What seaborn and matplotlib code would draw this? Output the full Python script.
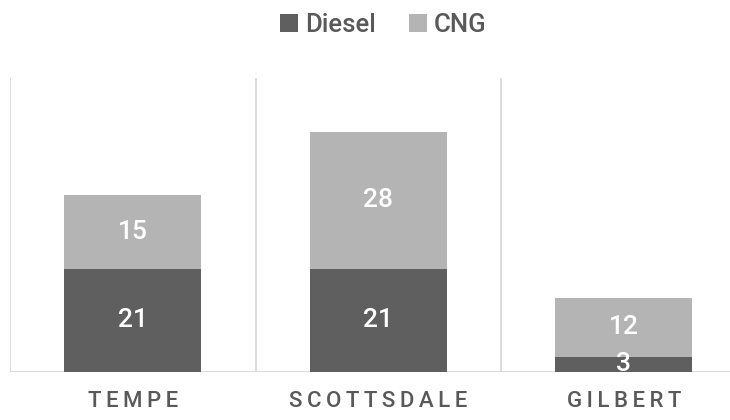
import matplotlib
matplotlib.use("Agg")
import matplotlib.pyplot as plt
import seaborn as sns
import pandas as pd
import numpy as np

# --- data ---
cities = ["TEMPE", "SCOTTSDALE", "GILBERT"]
diesel = [21, 21, 3]
cng = [15, 28, 12]

DIESEL_C = "#5f5f5f"
CNG_C = "#b4b4b4"
TXT_C = "#595959"

sns.set_theme(style="white")
plt.rcParams["font.family"] = ["Roboto", "DejaVu Sans"]

df = pd.DataFrame({"city": cities, "Diesel": diesel, "CNG": cng})
df["total"] = df["Diesel"] + df["CNG"]

fig = plt.figure(figsize=(7.3, 4.2), dpi=100)
ax = fig.add_axes([10 / 730, 48.5 / 420, 720 / 730, 293.5 / 420])

# stacked bars: draw totals (CNG colour) then diesel on top
sns.barplot(data=df, x="city", y="total", color=CNG_C, width=0.558,
            saturation=1, ax=ax, label="CNG", linewidth=0, edgecolor="none")
sns.barplot(data=df, x="city", y="Diesel", color=DIESEL_C, width=0.558,
            saturation=1, ax=ax, label="Diesel", linewidth=0, edgecolor="none")
handles, labels = ax.get_legend_handles_labels()
if ax.get_legend() is not None:
    ax.get_legend().remove()

ax.set_xlim(-0.5, -0.5 + 720 / 245.5)
ax.set_ylim(0, 60)

# separators between categories
for xv in [-0.5, 0.5, 1.5]:
    ax.axvline(xv, color="#d9d9d9", lw=1.3, zorder=0)
ax.axhline(0, color="#d9d9d9", lw=1.3, zorder=0)

for s in ax.spines.values():
    s.set_visible(False)
ax.set_yticks([])
ax.set_xlabel("")
ax.set_ylabel("")
ax.tick_params(axis="x", length=0, pad=14)
spaced = ["\u2009".join(list(c)) for c in cities]
ax.set_xticks(range(len(cities)))
ax.set_xticklabels(spaced, fontsize=16, color=TXT_C, fontweight="medium")

# value labels
for i, (d, c) in enumerate(zip(diesel, cng)):
    ax.text(i, d / 2, str(d), ha="center", va="center", color="white",
            fontsize=19, fontweight="medium")
    ax.text(i, d + c / 2, str(c), ha="center", va="center", color="white",
            fontsize=19, fontweight="medium")

# legend
order = [labels.index("Diesel"), labels.index("CNG")]
fig.legend([handles[k] for k in order], [labels[k] for k in order],
           loc="upper center", bbox_to_anchor=(0.525, 1.025), ncol=2, frameon=False,
           prop={"size": 18.5, "weight": "medium"}, labelcolor=TXT_C,
           handlelength=0.7, handleheight=0.7, handletextpad=0.25,
           columnspacing=1.3)

fig.savefig("out.png", dpi=100)
